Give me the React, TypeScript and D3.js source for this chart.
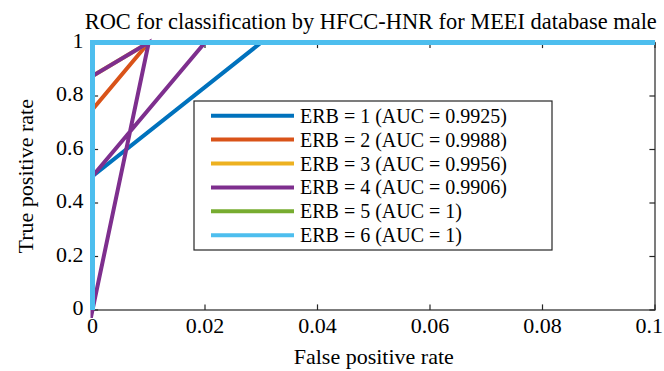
import React from "react";
import * as d3 from "d3";

const W = 664;
const H = 371;
const margin = { left: 92.5, right: 9, top: 42.5, bottom: 61 };

const titleText = "ROC for classification by HFCC-HNR for MEEI database male";
const xLabel = "False positive rate";
const yLabel = "True positive rate";

const xTicks = [0, 0.02, 0.04, 0.06, 0.08, 0.1];
const xTickLabels = ["0", "0.02", "0.04", "0.06", "0.08", "0.1"];
const yTicks = [0, 0.2, 0.4, 0.6, 0.8, 1];
const yTickLabels = ["0", "0.2", "0.4", "0.6", "0.8", "1"];

const seriesNames = [
  "ERB = 1 (AUC = 0.9925)",
  "ERB = 2 (AUC = 0.9988)",
  "ERB = 3 (AUC = 0.9956)",
  "ERB = 4 (AUC = 0.9906)",
  "ERB = 5 (AUC = 1)",
  "ERB = 6 (AUC = 1)",
];
const seriesColors = ["#0072BD", "#D95319", "#EDB120", "#7E2F8E", "#77AC30", "#4DBEEE"];

// ROC curves: [fpr, tpr]
const erb1: [number, number][] = [[0, 0], [0, 0.5], [0.03, 1], [1, 1]];
const erb2: [number, number][] = [[0, 0], [0, 0.75], [0.01, 1], [1, 1]];
const erb3: [number, number][] = [[0, 0], [0, 0.875], [0.01, 1], [1, 1]];
const erb4: [number, number][] = [[0, 0.875], [0.01, 1], [0, 0], [0, 0.5], [0.02, 1], [1, 1]];
const erb5: [number, number][] = [[0, 0], [0, 1], [1, 1]];
const erb6: [number, number][] = [[0, 0], [0, 1], [1, 1]];
const seriesData = [erb1, erb2, erb3, erb4, erb5, erb6];

export default function App() {
  const x = d3.scaleLinear().domain([0, 0.1]).range([margin.left, W - margin.right]);
  const y = d3.scaleLinear().domain([0, 1]).range([H - margin.bottom, margin.top]);
  const line = d3
    .line<[number, number]>()
    .x((d) => x(d[0]))
    .y((d) => y(d[1]));

  const x0 = x(0);
  const x1 = x(0.1);
  const y0 = y(0);
  const y1 = y(1);
  const tickLen = 5.6;
  const font = "'Liberation Serif', 'Times New Roman', serif";
  const axisColor = "#262626";

  const legend = { x: 194, y: 101, w: 358, h: 149, row0: 115.7, rowH: 23.9, lx0: 211, lx1: 294, tx: 300 };

  return (
    <svg
      width={W}
      height={H}
      style={{ position: "absolute", left: 0, top: 0, background: "#fff" }}
      fontFamily={font}
    >
      <defs>
        <clipPath id="plotclip">
          <rect x={x0 - 8} y={y1 - 8} width={x1 - x0 + 8} height={y0 - y1 + 16} />
        </clipPath>
      </defs>
      <rect x={0} y={0} width={W} height={H} fill="#fff" />

      {/* axes box */}
      <g stroke={axisColor} strokeWidth={1.2} fill="none">
        <rect x={x0} y={y1} width={x1 - x0} height={y0 - y1} />
        {xTicks.map((t, i) => (
          <g key={"xt" + i}>
            <line x1={x(t)} x2={x(t)} y1={y0} y2={y0 - tickLen} />
            <line x1={x(t)} x2={x(t)} y1={y1} y2={y1 + tickLen} />
          </g>
        ))}
        {yTicks.map((t, i) => (
          <g key={"yt" + i}>
            <line x1={x0} x2={x0 + tickLen} y1={y(t)} y2={y(t)} />
            <line x1={x1} x2={x1 - tickLen} y1={y(t)} y2={y(t)} />
          </g>
        ))}
      </g>

      {/* tick labels */}
      <g fontSize={22} fill="#000">
        {xTicks.map((t, i) => {
          const last = i === xTicks.length - 1;
          return (
            <text key={"xl" + i} x={last ? W - 1 : x(t)} y={333} textAnchor={last ? "end" : "middle"}>
              {xTickLabels[i]}
            </text>
          );
        })}
        {yTicks.map((t, i) => (
          <text key={"yl" + i} x={83.5} y={y(t) + 5} textAnchor="end">
            {yTickLabels[i]}
          </text>
        ))}
      </g>

      {/* series */}
      <g clipPath="url(#plotclip)" fill="none">
        {seriesData.map((d, i) => (
          <path
            key={"s" + i}
            d={line(d) || ""}
            stroke={seriesColors[i]}
            strokeWidth={i === 5 ? 5 : 4}
            strokeLinejoin="miter"
            strokeMiterlimit={10}
          />
        ))}
      </g>

      {/* legend */}
      <g>
        <rect
          x={legend.x}
          y={legend.y}
          width={legend.w}
          height={legend.h}
          fill="#fff"
          stroke={axisColor}
          strokeWidth={1.2}
        />
        {seriesNames.map((name, i) => {
          const cy = legend.row0 + i * legend.rowH;
          return (
            <g key={"lg" + i}>
              <line x1={legend.lx0} x2={legend.lx1} y1={cy} y2={cy} stroke={seriesColors[i]} strokeWidth={4} />
              <text x={legend.tx} y={cy + 7} fontSize={20} fill="#000">
                {name}
              </text>
            </g>
          );
        })}
      </g>

      {/* title and labels */}
      <text x={(x0 + x1) / 2 - 3} y={29} textAnchor="middle" fontSize={22.4} fill="#000">
        {titleText}
      </text>
      <text x={(x0 + x1) / 2} y={364} textAnchor="middle" fontSize={22} fill="#000">
        {xLabel}
      </text>
      <text
        transform={`translate(33, ${(y0 + y1) / 2}) rotate(-90)`}
        textAnchor="middle"
        fontSize={22}
        fill="#000"
      >
        {yLabel}
      </text>
    </svg>
  );
}
